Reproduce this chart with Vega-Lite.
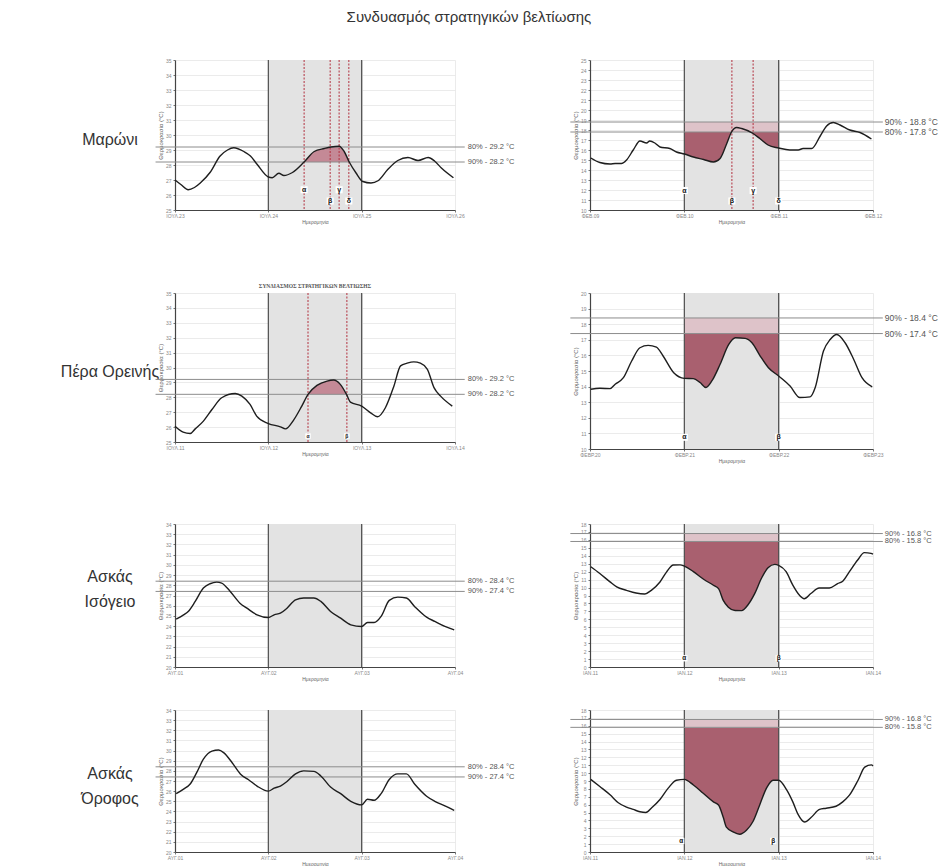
{
"$schema": "https://vega.github.io/schema/vega-lite/v6.json",
"padding": {"left": 0, "top": 10, "right": 0, "bottom": 0},
"title": {"text": "Συνδυασμός στρατηγικών βελτίωσης", "fontSize": 15, "font": "Liberation Sans", "fontWeight": "normal", "color": "#333", "offset": 33, "anchor": "middle"},
"config": {
  "view": {"stroke": null},
  "font": "Liberation Sans",
  "axis": {"labelFontSize": 5, "labelColor": "#888", "titleFontSize": 6, "titleColor": "#666", "titleFontWeight": "normal", "domainColor": "#444", "domainWidth": 1.2, "tickColor": "#777", "tickSize": 2, "gridColor": "#e6e6e6", "gridWidth": 0.8, "labelPadding": 2, "titlePadding": 2, "labelFlush": false, "labelOverlap": false, "labelSeparation": 0, "grid": true},
  "axisX": {"titleFontSize": 5, "titlePadding": 1, "labelPadding": 1}
},
"datasets": {
"m_s": [{"t":0,"v":27.0},{"t":1.5,"v":26.7},{"t":3.4,"v":26.35},{"t":5,"v":26.5},{"t":6.5,"v":26.8},{"t":9,"v":27.5},{"t":11.6,"v":28.6},{"t":13.5,"v":29.0},{"t":15.1,"v":29.15},{"t":17.7,"v":28.9},{"t":19.4,"v":28.6},{"t":21.1,"v":28.05},{"t":24,"v":27.2},{"t":25,"v":27.15},{"t":26.7,"v":27.45},{"t":28,"v":27.3},{"t":30.2,"v":27.5},{"t":33.2,"v":28.2},{"t":35.8,"v":28.9},{"t":38.4,"v":29.1},{"t":40.1,"v":29.2},{"t":42.2,"v":29.25},{"t":43.5,"v":28.9},{"t":44.8,"v":28.2},{"t":46.6,"v":27.45},{"t":48.3,"v":26.9},{"t":50.4,"v":26.8},{"t":52.2,"v":26.95},{"t":54.7,"v":27.7},{"t":57.3,"v":28.3},{"t":59.9,"v":28.5},{"t":62.5,"v":28.3},{"t":65.1,"v":28.5},{"t":66.8,"v":28.25},{"t":68.5,"v":27.8},{"t":71.6,"v":27.15}],
"m_w": [{"t":0.2,"v":15.2},{"t":2.5,"v":14.75},{"t":5.1,"v":14.6},{"t":6.4,"v":14.65},{"t":8,"v":14.65},{"t":9.3,"v":15.0},{"t":11,"v":16.0},{"t":12.7,"v":16.9},{"t":14.4,"v":16.7},{"t":15.2,"v":16.9},{"t":16.5,"v":16.7},{"t":17.8,"v":16.3},{"t":20.3,"v":16.15},{"t":22,"v":15.8},{"t":24,"v":15.6},{"t":26.3,"v":15.3},{"t":28.9,"v":15.05},{"t":31.4,"v":14.8},{"t":33.1,"v":15.15},{"t":34.8,"v":16.65},{"t":36,"v":17.8},{"t":37.3,"v":18.25},{"t":38.6,"v":18.15},{"t":41.5,"v":17.65},{"t":43.2,"v":17.15},{"t":45.3,"v":16.5},{"t":48,"v":16.2},{"t":50.8,"v":16.0},{"t":53,"v":16.0},{"t":54.2,"v":16.15},{"t":56.4,"v":16.15},{"t":58.5,"v":17.35},{"t":60.2,"v":18.4},{"t":61.9,"v":18.75},{"t":63.6,"v":18.5},{"t":66.1,"v":18.0},{"t":68.7,"v":17.75},{"t":71.6,"v":17.1}],
"p_s": [{"t":0,"v":26.06},{"t":2.1,"v":25.66},{"t":3.9,"v":25.57},{"t":5.2,"v":25.88},{"t":7.3,"v":26.4},{"t":9.5,"v":27.18},{"t":12,"v":27.97},{"t":15.5,"v":28.26},{"t":17.2,"v":28.08},{"t":19.3,"v":27.52},{"t":21,"v":26.74},{"t":24,"v":26.24},{"t":27.1,"v":26.02},{"t":28.4,"v":25.88},{"t":30.5,"v":26.47},{"t":32.6,"v":27.41},{"t":34.2,"v":28.2},{"t":36.5,"v":28.8},{"t":39.1,"v":29.09},{"t":40.8,"v":29.16},{"t":42.5,"v":28.87},{"t":44.1,"v":28.2},{"t":45.1,"v":27.68},{"t":48,"v":27.41},{"t":50.3,"v":26.96},{"t":52.1,"v":26.69},{"t":54.1,"v":27.3},{"t":56.3,"v":28.76},{"t":58,"v":30.11},{"t":59.7,"v":30.29},{"t":61.4,"v":30.38},{"t":63.1,"v":30.29},{"t":64.9,"v":29.88},{"t":66.6,"v":28.65},{"t":68.3,"v":28.08},{"t":71.3,"v":27.41}],
"p_w": [{"t":0.2,"v":13.83},{"t":2.5,"v":13.89},{"t":5.1,"v":13.87},{"t":6.4,"v":14.15},{"t":8.5,"v":14.57},{"t":10.6,"v":15.64},{"t":12.7,"v":16.49},{"t":14.8,"v":16.64},{"t":16.9,"v":16.53},{"t":18.6,"v":15.96},{"t":21.3,"v":14.89},{"t":24,"v":14.53},{"t":26.3,"v":14.51},{"t":28,"v":14.26},{"t":29.5,"v":13.94},{"t":31,"v":14.36},{"t":33.1,"v":15.43},{"t":35.3,"v":16.7},{"t":37,"v":17.13},{"t":39.5,"v":17.09},{"t":41.2,"v":16.81},{"t":43.3,"v":15.96},{"t":45.4,"v":15.21},{"t":48,"v":14.68},{"t":50.9,"v":14.04},{"t":53.4,"v":13.3},{"t":56,"v":13.34},{"t":57.3,"v":13.94},{"t":59.4,"v":16.28},{"t":61.1,"v":17.02},{"t":62.8,"v":17.34},{"t":64.9,"v":16.81},{"t":67.1,"v":15.74},{"t":69.2,"v":14.57},{"t":71.8,"v":13.98}],
"ai_s": [{"t":0.3,"v":24.69},{"t":2.2,"v":25.11},{"t":3.4,"v":25.44},{"t":5.2,"v":26.42},{"t":7.3,"v":27.73},{"t":9,"v":28.15},{"t":10.7,"v":28.31},{"t":12,"v":28.22},{"t":14.2,"v":27.4},{"t":16.7,"v":26.25},{"t":18.5,"v":25.76},{"t":21.1,"v":25.11},{"t":24,"v":24.85},{"t":25.5,"v":25.11},{"t":27.1,"v":25.27},{"t":28.8,"v":25.76},{"t":31,"v":26.58},{"t":33.1,"v":26.75},{"t":35.7,"v":26.75},{"t":37.5,"v":26.42},{"t":40,"v":25.44},{"t":42.6,"v":24.78},{"t":45.2,"v":24.13},{"t":48,"v":23.97},{"t":49.5,"v":24.36},{"t":51.2,"v":24.36},{"t":53,"v":24.95},{"t":55.1,"v":26.52},{"t":57.3,"v":26.84},{"t":59.5,"v":26.75},{"t":61.6,"v":25.93},{"t":64.7,"v":24.88},{"t":66.8,"v":24.46},{"t":69.4,"v":23.97},{"t":71.8,"v":23.64}],
"ai_w": [{"t":0.2,"v":12.62},{"t":2.5,"v":11.77},{"t":5.1,"v":10.71},{"t":6.8,"v":10.08},{"t":9.3,"v":9.65},{"t":11.7,"v":9.31},{"t":13.9,"v":9.19},{"t":15.6,"v":9.65},{"t":17.8,"v":10.7},{"t":19.5,"v":11.98},{"t":21.2,"v":12.83},{"t":22.9,"v":12.85},{"t":24,"v":12.7},{"t":26.3,"v":12.0},{"t":28.9,"v":11.05},{"t":31.4,"v":10.29},{"t":32.7,"v":9.86},{"t":33.9,"v":8.38},{"t":35.2,"v":7.53},{"t":36.9,"v":7.11},{"t":38.6,"v":7.1},{"t":40.2,"v":7.83},{"t":41.9,"v":9.23},{"t":43.6,"v":11.14},{"t":45.3,"v":12.49},{"t":47,"v":12.92},{"t":48,"v":12.8},{"t":49.9,"v":12.0},{"t":51.6,"v":10.3},{"t":53.3,"v":9.02},{"t":54.5,"v":8.6},{"t":56.2,"v":9.25},{"t":58.3,"v":9.95},{"t":60.9,"v":9.95},{"t":63,"v":10.5},{"t":64.3,"v":10.8},{"t":66,"v":12.0},{"t":68.1,"v":13.47},{"t":69.8,"v":14.4},{"t":71.5,"v":14.3},{"t":72,"v":14.2}],
"ao_s": [{"t":0.3,"v":25.75},{"t":2.2,"v":26.2},{"t":3.9,"v":26.7},{"t":5.6,"v":27.85},{"t":7.3,"v":29.15},{"t":9.5,"v":29.95},{"t":11.2,"v":30.05},{"t":12.5,"v":29.8},{"t":14.7,"v":28.8},{"t":16.8,"v":27.7},{"t":19,"v":27.1},{"t":21.1,"v":26.5},{"t":24,"v":26.0},{"t":25.5,"v":26.3},{"t":27.1,"v":26.5},{"t":28.8,"v":26.95},{"t":31,"v":27.7},{"t":33.1,"v":28.0},{"t":35.7,"v":27.95},{"t":37.5,"v":27.5},{"t":40,"v":26.4},{"t":42.6,"v":25.75},{"t":45.2,"v":25.0},{"t":48,"v":24.65},{"t":49.5,"v":25.2},{"t":51.2,"v":25.1},{"t":53,"v":25.75},{"t":55.1,"v":27.15},{"t":57.3,"v":27.7},{"t":59.5,"v":27.7},{"t":61.6,"v":26.7},{"t":64.7,"v":25.5},{"t":66.8,"v":25.0},{"t":69.4,"v":24.55},{"t":71.8,"v":24.1}],
"ao_w": [{"t":0.2,"v":9.2},{"t":2.5,"v":8.3},{"t":5.1,"v":7.25},{"t":7.2,"v":6.25},{"t":9.3,"v":5.7},{"t":11,"v":5.4},{"t":12.7,"v":5.1},{"t":14.2,"v":5.0},{"t":15.7,"v":5.6},{"t":17.8,"v":6.65},{"t":19.9,"v":8.1},{"t":22,"v":9.1},{"t":24,"v":9.2},{"t":26.3,"v":8.5},{"t":28.8,"v":7.45},{"t":31.4,"v":6.35},{"t":32.7,"v":5.95},{"t":33.9,"v":4.4},{"t":34.7,"v":3.15},{"t":36.4,"v":2.55},{"t":38.1,"v":2.25},{"t":39.8,"v":2.75},{"t":41.5,"v":3.9},{"t":43.2,"v":6.0},{"t":44.9,"v":8.1},{"t":46.6,"v":9.1},{"t":48,"v":9.1},{"t":50,"v":7.9},{"t":51.6,"v":6.35},{"t":52.9,"v":4.8},{"t":54.6,"v":3.8},{"t":56.3,"v":4.4},{"t":58.4,"v":5.4},{"t":60.1,"v":5.55},{"t":62.6,"v":5.8},{"t":64.3,"v":6.35},{"t":66,"v":7.2},{"t":68.2,"v":9.1},{"t":69.9,"v":10.75},{"t":71.6,"v":11.05},{"t":72,"v":10.9}]
},
"bounds": "flush",
"columns": 3,
"spacing": {"row": 0, "column": 135},
"concat": [
{"width": 40, "height": 233, "data": {"values": [{"n": "Μαρώνι"}]}, "mark": {"type": "text", "fontSize": 16, "color": "#333", "dx": 90, "dy": -36.5, "lineBreak": "\n", "lineHeight": 25, "baseline": "middle"}, "encoding": {"text": {"field": "n"}}},
{"width": 280, "height": 150, "data": {"name": "m_s"},
 "layer": [
  {"mark": {"type": "line", "opacity": 0}, "encoding": {"x": {"field": "t", "type": "quantitative", "scale": {"domain": [0, 72]}, "axis": {"values": [0, 24, 48, 72], "labelExpr": "['ΙΟΥΛ.23','ΙΟΥΛ.24','ΙΟΥΛ.25','ΙΟΥΛ.26'][datum.value/24]", "title": "Ημερομηνία", "labelOverlap": false}}, "y": {"field": "v", "type": "quantitative", "scale": {"domain": [25, 35]}, "axis": {"values": [25, 26, 27, 28, 29, 30, 31, 32, 33, 34, 35], "title": "Θερμοκρασία (°C)", "labelOverlap": false, "tickCount": 11}}}},
  {"mark": {"type": "rect", "color": "#e3e3e3"}, "encoding": {"x": {"datum": 24, "type": "quantitative", "scale": {"domain": [0, 72]}}, "x2": {"datum": 48}}},
  {"transform": [{"filter": "datum.t >= 33.2 && datum.t <= 44.8"}], "mark": {"type": "area", "color": "#c48996", "interpolate": "monotone"}, "encoding": {"x": {"field": "t", "type": "quantitative", "scale": {"domain": [0, 72]}}, "y": {"field": "v", "type": "quantitative", "scale": {"domain": [25, 35]}}, "y2": {"datum": 28.2}}},
  {"data": {"values": [{"t": 24}, {"t": 48}]}, "mark": {"type": "rule", "color": "#4d4d4d", "strokeWidth": 1.2}, "encoding": {"x": {"field": "t", "type": "quantitative", "scale": {"domain": [0, 72]}}}},
  {"data": {"values": [{"t": 33.2}, {"t": 39.9}, {"t": 42.2}, {"t": 44.7}]}, "mark": {"type": "rule", "color": "#b2303f", "strokeWidth": 1, "strokeDash": [2, 1.5]}, "encoding": {"x": {"field": "t", "type": "quantitative", "scale": {"domain": [0, 72]}}}},
  {"data": {"values": [{"k": "80% - 29.2 °C", "v": 29.2}, {"k": "90% - 28.2 °C", "v": 28.2}]}, "mark": {"type": "rule", "color": "#8c8c8c", "strokeWidth": 1}, "encoding": {"x": {"datum": -5, "type": "quantitative", "scale": {"domain": [0, 72]}}, "x2": {"datum": 74.5}, "y": {"field": "v", "type": "quantitative", "scale": {"domain": [25, 35]}}}},
  {"data": {"values": [{"k": "80% - 29.2 °C", "v": 29.2}, {"k": "90% - 28.2 °C", "v": 28.2}]}, "mark": {"type": "text", "align": "left", "dx": 3, "fontSize": 7.5, "color": "#555"}, "encoding": {"x": {"datum": 74.5, "type": "quantitative", "scale": {"domain": [0, 72]}}, "y": {"field": "v", "type": "quantitative", "scale": {"domain": [25, 35]}}, "text": {"field": "k"}}},
  {"mark": {"type": "line", "color": "#1e1e1e", "strokeWidth": 1.4, "interpolate": "monotone"}, "encoding": {"x": {"field": "t", "type": "quantitative", "scale": {"domain": [0, 72]}}, "y": {"field": "v", "type": "quantitative", "scale": {"domain": [25, 35]}}}},
  {"data": {"values": [{"g": "α", "t": 33.2, "v": 26.35}, {"g": "β", "t": 39.9, "v": 25.6}, {"g": "γ", "t": 42.2, "v": 26.35}, {"g": "δ", "t": 44.7, "v": 25.6}]}, "mark": {"type": "point", "shape": "square", "filled": true, "color": "#ffffff", "opacity": 1, "size": 50}, "encoding": {"x": {"field": "t", "type": "quantitative", "scale": {"domain": [0, 72]}}, "y": {"field": "v", "type": "quantitative", "scale": {"domain": [25, 35]}}}},
  {"data": {"values": [{"g": "α", "t": 33.2, "v": 26.35}, {"g": "β", "t": 39.9, "v": 25.6}, {"g": "γ", "t": 42.2, "v": 26.35}, {"g": "δ", "t": 44.7, "v": 25.6}]}, "mark": {"type": "text", "fontSize": 7, "fontWeight": "bold", "color": "#111"}, "encoding": {"x": {"field": "t", "type": "quantitative", "scale": {"domain": [0, 72]}}, "y": {"field": "v", "type": "quantitative", "scale": {"domain": [25, 35]}}, "text": {"field": "g"}}}
 ]},
{"width": 283, "height": 150, "data": {"name": "m_w"},
 "layer": [
  {"mark": {"type": "line", "opacity": 0}, "encoding": {"x": {"field": "t", "type": "quantitative", "scale": {"domain": [0, 72]}, "axis": {"values": [0, 24, 48, 72], "labelExpr": "['ΦΕΒ.09','ΦΕΒ.10','ΦΕΒ.11','ΦΕΒ.12'][datum.value/24]", "title": "Ημερομηνία", "labelOverlap": false}}, "y": {"field": "v", "type": "quantitative", "scale": {"domain": [10, 25]}, "axis": {"values": [10, 11, 12, 13, 14, 15, 16, 17, 18, 19, 20, 21, 22, 23, 24, 25], "title": "Θερμοκρασία (°C)", "labelOverlap": false, "tickCount": 16}}}},
  {"mark": {"type": "rect", "color": "#e3e3e3"}, "encoding": {"x": {"datum": 24, "type": "quantitative", "scale": {"domain": [0, 72]}}, "x2": {"datum": 48}}},
  {"transform": [{"filter": "datum.t >= 24 && datum.t <= 48"}], "mark": {"type": "area", "color": "#a9606f", "interpolate": "monotone"}, "encoding": {"x": {"field": "t", "type": "quantitative", "scale": {"domain": [0, 72]}}, "y": {"field": "v", "type": "quantitative", "scale": {"domain": [10, 25]}}, "y2": {"datum": 17.8}}},
  {"mark": {"type": "rect", "color": "#dec3c9"}, "encoding": {"x": {"datum": 24, "type": "quantitative", "scale": {"domain": [0, 72]}}, "x2": {"datum": 48}, "y": {"datum": 17.8, "type": "quantitative", "scale": {"domain": [10, 25]}}, "y2": {"datum": 18.8}}},
  {"data": {"values": [{"t": 24}, {"t": 48}]}, "mark": {"type": "rule", "color": "#4d4d4d", "strokeWidth": 1.2}, "encoding": {"x": {"field": "t", "type": "quantitative", "scale": {"domain": [0, 72]}}}},
  {"data": {"values": [{"t": 36.1}, {"t": 41.5}]}, "mark": {"type": "rule", "color": "#b2303f", "strokeWidth": 1, "strokeDash": [2, 1.5]}, "encoding": {"x": {"field": "t", "type": "quantitative", "scale": {"domain": [0, 72]}}}},
  {"data": {"values": [{"k": "90% - 18.8 °C", "v": 18.8}, {"k": "80% - 17.8 °C", "v": 17.8}]}, "mark": {"type": "rule", "color": "#8c8c8c", "strokeWidth": 1}, "encoding": {"x": {"datum": -5, "type": "quantitative", "scale": {"domain": [0, 72]}}, "x2": {"datum": 74.5}, "y": {"field": "v", "type": "quantitative", "scale": {"domain": [10, 25]}}}},
  {"data": {"values": [{"k": "90% - 18.8 °C", "v": 18.8}, {"k": "80% - 17.8 °C", "v": 17.8}]}, "mark": {"type": "text", "align": "left", "dx": 2, "fontSize": 8.5, "color": "#555"}, "encoding": {"x": {"datum": 74.5, "type": "quantitative", "scale": {"domain": [0, 72]}}, "y": {"field": "v", "type": "quantitative", "scale": {"domain": [10, 25]}}, "text": {"field": "k"}}},
  {"mark": {"type": "line", "color": "#1e1e1e", "strokeWidth": 1.4, "interpolate": "monotone"}, "encoding": {"x": {"field": "t", "type": "quantitative", "scale": {"domain": [0, 72]}}, "y": {"field": "v", "type": "quantitative", "scale": {"domain": [10, 25]}}}},
  {"data": {"values": [{"g": "α", "t": 24, "v": 11.95}, {"g": "β", "t": 36.1, "v": 10.9}, {"g": "γ", "t": 41.5, "v": 11.95}, {"g": "δ", "t": 48, "v": 10.9}]}, "mark": {"type": "point", "shape": "square", "filled": true, "color": "#ffffff", "opacity": 1, "size": 50}, "encoding": {"x": {"field": "t", "type": "quantitative", "scale": {"domain": [0, 72]}}, "y": {"field": "v", "type": "quantitative", "scale": {"domain": [10, 25]}}}},
  {"data": {"values": [{"g": "α", "t": 24, "v": 11.95}, {"g": "β", "t": 36.1, "v": 10.9}, {"g": "γ", "t": 41.5, "v": 11.95}, {"g": "δ", "t": 48, "v": 10.9}]}, "mark": {"type": "text", "fontSize": 7, "fontWeight": "bold", "color": "#111"}, "encoding": {"x": {"field": "t", "type": "quantitative", "scale": {"domain": [0, 72]}}, "y": {"field": "v", "type": "quantitative", "scale": {"domain": [10, 25]}}, "text": {"field": "g"}}}
 ]},
{"width": 40, "height": 231, "data": {"values": [{"n": "Πέρα Ορεινής"}]}, "mark": {"type": "text", "fontSize": 16, "color": "#333", "dx": 90, "dy": -36.5, "lineBreak": "\n", "lineHeight": 25, "baseline": "middle"}, "encoding": {"text": {"field": "n"}}},
{"width": 280, "height": 149, "data": {"name": "p_s"},
 "title": {"text": "ΣΥΝΔΙΑΣΜΟΣ ΣΤΡΑΤΗΓΙΚΩΝ ΒΕΛΤΙΩΣΗΣ", "fontSize": 5.5, "font": "Liberation Serif", "fontWeight": "bold", "color": "#555", "offset": 2},
 "layer": [
  {"mark": {"type": "line", "opacity": 0}, "encoding": {"x": {"field": "t", "type": "quantitative", "scale": {"domain": [0, 72]}, "axis": {"values": [0, 24, 48, 72], "labelExpr": "['ΙΟΥΛ.11','ΙΟΥΛ.12','ΙΟΥΛ.13','ΙΟΥΛ.14'][datum.value/24]", "title": "Ημερομηνία", "labelOverlap": false}}, "y": {"field": "v", "type": "quantitative", "scale": {"domain": [25, 35]}, "axis": {"values": [25, 26, 27, 28, 29, 30, 31, 32, 33, 34, 35], "title": "Θερμοκρασία (°C)", "labelOverlap": false, "tickCount": 11}}}},
  {"mark": {"type": "rect", "color": "#e3e3e3"}, "encoding": {"x": {"datum": 24, "type": "quantitative", "scale": {"domain": [0, 72]}}, "x2": {"datum": 48}}},
  {"transform": [{"filter": "datum.t >= 34.2 && datum.t <= 44.1"}], "mark": {"type": "area", "color": "#c48996", "interpolate": "monotone"}, "encoding": {"x": {"field": "t", "type": "quantitative", "scale": {"domain": [0, 72]}}, "y": {"field": "v", "type": "quantitative", "scale": {"domain": [25, 35]}}, "y2": {"datum": 28.2}}},
  {"data": {"values": [{"t": 24}, {"t": 48}]}, "mark": {"type": "rule", "color": "#4d4d4d", "strokeWidth": 1.2}, "encoding": {"x": {"field": "t", "type": "quantitative", "scale": {"domain": [0, 72]}}}},
  {"data": {"values": [{"t": 34.2}, {"t": 44.2}]}, "mark": {"type": "rule", "color": "#b2303f", "strokeWidth": 1, "strokeDash": [2, 1.5]}, "encoding": {"x": {"field": "t", "type": "quantitative", "scale": {"domain": [0, 72]}}}},
  {"data": {"values": [{"k": "80% - 29.2 °C", "v": 29.2}, {"k": "90% - 28.2 °C", "v": 28.2}]}, "mark": {"type": "rule", "color": "#8c8c8c", "strokeWidth": 1}, "encoding": {"x": {"datum": -5, "type": "quantitative", "scale": {"domain": [0, 72]}}, "x2": {"datum": 74.5}, "y": {"field": "v", "type": "quantitative", "scale": {"domain": [25, 35]}}}},
  {"data": {"values": [{"k": "80% - 29.2 °C", "v": 29.2}, {"k": "90% - 28.2 °C", "v": 28.2}]}, "mark": {"type": "text", "align": "left", "dx": 3, "fontSize": 7.5, "color": "#555"}, "encoding": {"x": {"datum": 74.5, "type": "quantitative", "scale": {"domain": [0, 72]}}, "y": {"field": "v", "type": "quantitative", "scale": {"domain": [25, 35]}}, "text": {"field": "k"}}},
  {"mark": {"type": "line", "color": "#1e1e1e", "strokeWidth": 1.4, "interpolate": "monotone"}, "encoding": {"x": {"field": "t", "type": "quantitative", "scale": {"domain": [0, 72]}}, "y": {"field": "v", "type": "quantitative", "scale": {"domain": [25, 35]}}}},
  {"data": {"values": [{"g": "α", "t": 34.2, "v": 25.4}, {"g": "β", "t": 44.2, "v": 25.4}]}, "mark": {"type": "point", "shape": "square", "filled": true, "color": "#ffffff", "opacity": 1, "size": 30}, "encoding": {"x": {"field": "t", "type": "quantitative", "scale": {"domain": [0, 72]}}, "y": {"field": "v", "type": "quantitative", "scale": {"domain": [25, 35]}}}},
  {"data": {"values": [{"g": "α", "t": 34.2, "v": 25.4}, {"g": "β", "t": 44.2, "v": 25.4}]}, "mark": {"type": "text", "fontSize": 5, "fontWeight": "bold", "color": "#111"}, "encoding": {"x": {"field": "t", "type": "quantitative", "scale": {"domain": [0, 72]}}, "y": {"field": "v", "type": "quantitative", "scale": {"domain": [25, 35]}}, "text": {"field": "g"}}}
 ]},
{"width": 283, "height": 156, "data": {"name": "p_w"},
 "layer": [
  {"mark": {"type": "line", "opacity": 0}, "encoding": {"x": {"field": "t", "type": "quantitative", "scale": {"domain": [0, 72]}, "axis": {"values": [0, 24, 48, 72], "labelExpr": "['ΦΕΒΡ.20','ΦΕΒΡ.21','ΦΕΒΡ.22','ΦΕΒΡ.23'][datum.value/24]", "title": "Ημερομηνία", "labelOverlap": false}}, "y": {"field": "v", "type": "quantitative", "scale": {"domain": [10, 20]}, "axis": {"values": [10, 11, 12, 13, 14, 15, 16, 17, 18, 19, 20], "title": "Θερμοκρασία (°C)", "labelOverlap": false, "tickCount": 11}}}},
  {"mark": {"type": "rect", "color": "#e3e3e3"}, "encoding": {"x": {"datum": 24, "type": "quantitative", "scale": {"domain": [0, 72]}}, "x2": {"datum": 48}}},
  {"transform": [{"filter": "datum.t >= 24 && datum.t <= 48"}], "mark": {"type": "area", "color": "#a9606f", "interpolate": "monotone"}, "encoding": {"x": {"field": "t", "type": "quantitative", "scale": {"domain": [0, 72]}}, "y": {"field": "v", "type": "quantitative", "scale": {"domain": [10, 20]}}, "y2": {"datum": 17.4}}},
  {"mark": {"type": "rect", "color": "#dec3c9"}, "encoding": {"x": {"datum": 24, "type": "quantitative", "scale": {"domain": [0, 72]}}, "x2": {"datum": 48}, "y": {"datum": 17.4, "type": "quantitative", "scale": {"domain": [10, 20]}}, "y2": {"datum": 18.4}}},
  {"data": {"values": [{"t": 24}, {"t": 48}]}, "mark": {"type": "rule", "color": "#4d4d4d", "strokeWidth": 1.2}, "encoding": {"x": {"field": "t", "type": "quantitative", "scale": {"domain": [0, 72]}}}},
  {"data": {"values": [{"k": "90% - 18.4 °C", "v": 18.4}, {"k": "80% - 17.4 °C", "v": 17.4}]}, "mark": {"type": "rule", "color": "#8c8c8c", "strokeWidth": 1}, "encoding": {"x": {"datum": -5, "type": "quantitative", "scale": {"domain": [0, 72]}}, "x2": {"datum": 74.5}, "y": {"field": "v", "type": "quantitative", "scale": {"domain": [10, 20]}}}},
  {"data": {"values": [{"k": "90% - 18.4 °C", "v": 18.4}, {"k": "80% - 17.4 °C", "v": 17.4}]}, "mark": {"type": "text", "align": "left", "dx": 2, "fontSize": 8.5, "color": "#555"}, "encoding": {"x": {"datum": 74.5, "type": "quantitative", "scale": {"domain": [0, 72]}}, "y": {"field": "v", "type": "quantitative", "scale": {"domain": [10, 20]}}, "text": {"field": "k"}}},
  {"mark": {"type": "line", "color": "#1e1e1e", "strokeWidth": 1.4, "interpolate": "monotone"}, "encoding": {"x": {"field": "t", "type": "quantitative", "scale": {"domain": [0, 72]}}, "y": {"field": "v", "type": "quantitative", "scale": {"domain": [10, 20]}}}},
  {"data": {"values": [{"g": "α", "t": 24, "v": 10.75}, {"g": "β", "t": 48, "v": 10.75}]}, "mark": {"type": "point", "shape": "square", "filled": true, "color": "#ffffff", "opacity": 1, "size": 50}, "encoding": {"x": {"field": "t", "type": "quantitative", "scale": {"domain": [0, 72]}}, "y": {"field": "v", "type": "quantitative", "scale": {"domain": [10, 20]}}}},
  {"data": {"values": [{"g": "α", "t": 24, "v": 10.75}, {"g": "β", "t": 48, "v": 10.75}]}, "mark": {"type": "text", "fontSize": 7, "fontWeight": "bold", "color": "#111"}, "encoding": {"x": {"field": "t", "type": "quantitative", "scale": {"domain": [0, 72]}}, "y": {"field": "v", "type": "quantitative", "scale": {"domain": [10, 20]}}, "text": {"field": "g"}}}
 ]},
{"width": 40, "height": 186, "data": {"values": [{"n": "Ασκάς\nΙσόγειο"}]}, "mark": {"type": "text", "fontSize": 16, "color": "#333", "dx": 90, "dy": -40, "lineBreak": "\n", "lineHeight": 25, "baseline": "middle"}, "encoding": {"text": {"field": "n"}}},
{"width": 280, "height": 143, "data": {"name": "ai_s"},
 "layer": [
  {"mark": {"type": "line", "opacity": 0}, "encoding": {"x": {"field": "t", "type": "quantitative", "scale": {"domain": [0, 72]}, "axis": {"values": [0, 24, 48, 72], "labelExpr": "['ΑΥΓ.01','ΑΥΓ.02','ΑΥΓ.03','ΑΥΓ.04'][datum.value/24]", "title": "Ημερομηνία", "labelOverlap": false}}, "y": {"field": "v", "type": "quantitative", "scale": {"domain": [20, 34]}, "axis": {"values": [20, 21, 22, 23, 24, 25, 26, 27, 28, 29, 30, 31, 32, 33, 34], "title": "Θερμοκρασία (°C)", "labelOverlap": false, "tickCount": 15}}}},
  {"mark": {"type": "rect", "color": "#e3e3e3"}, "encoding": {"x": {"datum": 24, "type": "quantitative", "scale": {"domain": [0, 72]}}, "x2": {"datum": 48}}},
  {"data": {"values": [{"t": 24}, {"t": 48}]}, "mark": {"type": "rule", "color": "#4d4d4d", "strokeWidth": 1.2}, "encoding": {"x": {"field": "t", "type": "quantitative", "scale": {"domain": [0, 72]}}}},
  {"data": {"values": [{"k": "80% - 28.4 °C", "v": 28.4}, {"k": "90% - 27.4 °C", "v": 27.4}]}, "mark": {"type": "rule", "color": "#8c8c8c", "strokeWidth": 1}, "encoding": {"x": {"datum": -5, "type": "quantitative", "scale": {"domain": [0, 72]}}, "x2": {"datum": 74.5}, "y": {"field": "v", "type": "quantitative", "scale": {"domain": [20, 34]}}}},
  {"data": {"values": [{"k": "80% - 28.4 °C", "v": 28.4}, {"k": "90% - 27.4 °C", "v": 27.4}]}, "mark": {"type": "text", "align": "left", "dx": 3, "fontSize": 7.5, "color": "#555"}, "encoding": {"x": {"datum": 74.5, "type": "quantitative", "scale": {"domain": [0, 72]}}, "y": {"field": "v", "type": "quantitative", "scale": {"domain": [20, 34]}}, "text": {"field": "k"}}},
  {"mark": {"type": "line", "color": "#1e1e1e", "strokeWidth": 1.4, "interpolate": "monotone"}, "encoding": {"x": {"field": "t", "type": "quantitative", "scale": {"domain": [0, 72]}}, "y": {"field": "v", "type": "quantitative", "scale": {"domain": [20, 34]}}}}
 ]},
{"width": 283, "height": 143, "data": {"name": "ai_w"},
 "layer": [
  {"mark": {"type": "line", "opacity": 0}, "encoding": {"x": {"field": "t", "type": "quantitative", "scale": {"domain": [0, 72]}, "axis": {"values": [0, 24, 48, 72], "labelExpr": "['ΙΑΝ.11','ΙΑΝ.12','ΙΑΝ.13','ΙΑΝ.14'][datum.value/24]", "title": "Ημερομηνία", "labelOverlap": false}}, "y": {"field": "v", "type": "quantitative", "scale": {"domain": [0, 18]}, "axis": {"values": [0, 1, 2, 3, 4, 5, 6, 7, 8, 9, 10, 11, 12, 13, 14, 15, 16, 17, 18], "title": "Θερμοκρασία (°C)", "labelOverlap": false, "tickCount": 19}}}},
  {"mark": {"type": "rect", "color": "#e3e3e3"}, "encoding": {"x": {"datum": 24, "type": "quantitative", "scale": {"domain": [0, 72]}}, "x2": {"datum": 48}}},
  {"transform": [{"filter": "datum.t >= 24 && datum.t <= 48"}], "mark": {"type": "area", "color": "#a9606f", "interpolate": "monotone"}, "encoding": {"x": {"field": "t", "type": "quantitative", "scale": {"domain": [0, 72]}}, "y": {"field": "v", "type": "quantitative", "scale": {"domain": [0, 18]}}, "y2": {"datum": 15.8}}},
  {"mark": {"type": "rect", "color": "#dec3c9"}, "encoding": {"x": {"datum": 24, "type": "quantitative", "scale": {"domain": [0, 72]}}, "x2": {"datum": 48}, "y": {"datum": 15.8, "type": "quantitative", "scale": {"domain": [0, 18]}}, "y2": {"datum": 16.8}}},
  {"data": {"values": [{"t": 24}, {"t": 48}]}, "mark": {"type": "rule", "color": "#4d4d4d", "strokeWidth": 1.2}, "encoding": {"x": {"field": "t", "type": "quantitative", "scale": {"domain": [0, 72]}}}},
  {"data": {"values": [{"k": "90% - 16.8 °C", "v": 16.8}, {"k": "80% - 15.8 °C", "v": 15.8}]}, "mark": {"type": "rule", "color": "#8c8c8c", "strokeWidth": 1}, "encoding": {"x": {"datum": -5, "type": "quantitative", "scale": {"domain": [0, 72]}}, "x2": {"datum": 74.5}, "y": {"field": "v", "type": "quantitative", "scale": {"domain": [0, 18]}}}},
  {"data": {"values": [{"k": "90% - 16.8 °C", "v": 16.8}, {"k": "80% - 15.8 °C", "v": 15.8}]}, "mark": {"type": "text", "align": "left", "dx": 2, "fontSize": 7.5, "color": "#555"}, "encoding": {"x": {"datum": 74.5, "type": "quantitative", "scale": {"domain": [0, 72]}}, "y": {"field": "v", "type": "quantitative", "scale": {"domain": [0, 18]}}, "text": {"field": "k"}}},
  {"mark": {"type": "line", "color": "#1e1e1e", "strokeWidth": 1.4, "interpolate": "monotone"}, "encoding": {"x": {"field": "t", "type": "quantitative", "scale": {"domain": [0, 72]}}, "y": {"field": "v", "type": "quantitative", "scale": {"domain": [0, 18]}}}},
  {"data": {"values": [{"g": "α", "t": 24, "v": 1.1}, {"g": "β", "t": 48, "v": 1.1}]}, "mark": {"type": "point", "shape": "square", "filled": true, "color": "#ffffff", "opacity": 1, "size": 40}, "encoding": {"x": {"field": "t", "type": "quantitative", "scale": {"domain": [0, 72]}}, "y": {"field": "v", "type": "quantitative", "scale": {"domain": [0, 18]}}}},
  {"data": {"values": [{"g": "α", "t": 24, "v": 1.1}, {"g": "β", "t": 48, "v": 1.1}]}, "mark": {"type": "text", "fontSize": 6.5, "fontWeight": "bold", "color": "#111"}, "encoding": {"x": {"field": "t", "type": "quantitative", "scale": {"domain": [0, 72]}}, "y": {"field": "v", "type": "quantitative", "scale": {"domain": [0, 18]}}, "text": {"field": "g"}}}
 ]},
{"width": 40, "height": 142, "data": {"values": [{"n": "Ασκάς\nΌροφος"}]}, "mark": {"type": "text", "fontSize": 16, "color": "#333", "dx": 90, "dy": -7, "lineBreak": "\n", "lineHeight": 25, "baseline": "middle"}, "encoding": {"text": {"field": "n"}}},
{"width": 280, "height": 142, "data": {"name": "ao_s"},
 "layer": [
  {"mark": {"type": "line", "opacity": 0}, "encoding": {"x": {"field": "t", "type": "quantitative", "scale": {"domain": [0, 72]}, "axis": {"values": [0, 24, 48, 72], "labelExpr": "['ΑΥΓ.01','ΑΥΓ.02','ΑΥΓ.03','ΑΥΓ.04'][datum.value/24]", "title": "Ημερομηνία", "labelOverlap": false}}, "y": {"field": "v", "type": "quantitative", "scale": {"domain": [20, 34]}, "axis": {"values": [20, 21, 22, 23, 24, 25, 26, 27, 28, 29, 30, 31, 32, 33, 34], "title": "Θερμοκρασία (°C)", "labelOverlap": false, "tickCount": 15}}}},
  {"mark": {"type": "rect", "color": "#e3e3e3"}, "encoding": {"x": {"datum": 24, "type": "quantitative", "scale": {"domain": [0, 72]}}, "x2": {"datum": 48}}},
  {"data": {"values": [{"t": 24}, {"t": 48}]}, "mark": {"type": "rule", "color": "#4d4d4d", "strokeWidth": 1.2}, "encoding": {"x": {"field": "t", "type": "quantitative", "scale": {"domain": [0, 72]}}}},
  {"data": {"values": [{"k": "80% - 28.4 °C", "v": 28.4}, {"k": "90% - 27.4 °C", "v": 27.4}]}, "mark": {"type": "rule", "color": "#8c8c8c", "strokeWidth": 1}, "encoding": {"x": {"datum": -5, "type": "quantitative", "scale": {"domain": [0, 72]}}, "x2": {"datum": 74.5}, "y": {"field": "v", "type": "quantitative", "scale": {"domain": [20, 34]}}}},
  {"data": {"values": [{"k": "80% - 28.4 °C", "v": 28.4}, {"k": "90% - 27.4 °C", "v": 27.4}]}, "mark": {"type": "text", "align": "left", "dx": 3, "fontSize": 7.5, "color": "#555"}, "encoding": {"x": {"datum": 74.5, "type": "quantitative", "scale": {"domain": [0, 72]}}, "y": {"field": "v", "type": "quantitative", "scale": {"domain": [20, 34]}}, "text": {"field": "k"}}},
  {"mark": {"type": "line", "color": "#1e1e1e", "strokeWidth": 1.4, "interpolate": "monotone"}, "encoding": {"x": {"field": "t", "type": "quantitative", "scale": {"domain": [0, 72]}}, "y": {"field": "v", "type": "quantitative", "scale": {"domain": [20, 34]}}}}
 ]},
{"width": 283, "height": 142, "data": {"name": "ao_w"},
 "layer": [
  {"mark": {"type": "line", "opacity": 0}, "encoding": {"x": {"field": "t", "type": "quantitative", "scale": {"domain": [0, 72]}, "axis": {"values": [0, 24, 48, 72], "labelExpr": "['ΙΑΝ.11','ΙΑΝ.12','ΙΑΝ.13','ΙΑΝ.14'][datum.value/24]", "title": "Ημερομηνία", "labelOverlap": false}}, "y": {"field": "v", "type": "quantitative", "scale": {"domain": [0, 18]}, "axis": {"values": [0, 1, 2, 3, 4, 5, 6, 7, 8, 9, 10, 11, 12, 13, 14, 15, 16, 17, 18], "title": "Θερμοκρασία (°C)", "labelOverlap": false, "tickCount": 19}}}},
  {"mark": {"type": "rect", "color": "#e3e3e3"}, "encoding": {"x": {"datum": 24, "type": "quantitative", "scale": {"domain": [0, 72]}}, "x2": {"datum": 48}}},
  {"transform": [{"filter": "datum.t >= 24 && datum.t <= 48"}], "mark": {"type": "area", "color": "#a9606f", "interpolate": "monotone"}, "encoding": {"x": {"field": "t", "type": "quantitative", "scale": {"domain": [0, 72]}}, "y": {"field": "v", "type": "quantitative", "scale": {"domain": [0, 18]}}, "y2": {"datum": 15.8}}},
  {"mark": {"type": "rect", "color": "#dec3c9"}, "encoding": {"x": {"datum": 24, "type": "quantitative", "scale": {"domain": [0, 72]}}, "x2": {"datum": 48}, "y": {"datum": 15.8, "type": "quantitative", "scale": {"domain": [0, 18]}}, "y2": {"datum": 16.8}}},
  {"data": {"values": [{"t": 24}, {"t": 48}]}, "mark": {"type": "rule", "color": "#4d4d4d", "strokeWidth": 1.2}, "encoding": {"x": {"field": "t", "type": "quantitative", "scale": {"domain": [0, 72]}}}},
  {"data": {"values": [{"k": "90% - 16.8 °C", "v": 16.8}, {"k": "80% - 15.8 °C", "v": 15.8}]}, "mark": {"type": "rule", "color": "#8c8c8c", "strokeWidth": 1}, "encoding": {"x": {"datum": -5, "type": "quantitative", "scale": {"domain": [0, 72]}}, "x2": {"datum": 74.5}, "y": {"field": "v", "type": "quantitative", "scale": {"domain": [0, 18]}}}},
  {"data": {"values": [{"k": "90% - 16.8 °C", "v": 16.8}, {"k": "80% - 15.8 °C", "v": 15.8}]}, "mark": {"type": "text", "align": "left", "dx": 2, "fontSize": 7.5, "color": "#555"}, "encoding": {"x": {"datum": 74.5, "type": "quantitative", "scale": {"domain": [0, 72]}}, "y": {"field": "v", "type": "quantitative", "scale": {"domain": [0, 18]}}, "text": {"field": "k"}}},
  {"mark": {"type": "line", "color": "#1e1e1e", "strokeWidth": 1.4, "interpolate": "monotone"}, "encoding": {"x": {"field": "t", "type": "quantitative", "scale": {"domain": [0, 72]}}, "y": {"field": "v", "type": "quantitative", "scale": {"domain": [0, 18]}}}},
  {"data": {"values": [{"g": "α", "t": 23.2, "v": 1.4}, {"g": "β", "t": 46.6, "v": 1.4}]}, "mark": {"type": "point", "shape": "square", "filled": true, "color": "#ffffff", "opacity": 1, "size": 40}, "encoding": {"x": {"field": "t", "type": "quantitative", "scale": {"domain": [0, 72]}}, "y": {"field": "v", "type": "quantitative", "scale": {"domain": [0, 18]}}}},
  {"data": {"values": [{"g": "α", "t": 23.2, "v": 1.4}, {"g": "β", "t": 46.6, "v": 1.4}]}, "mark": {"type": "text", "fontSize": 6.5, "fontWeight": "bold", "color": "#111"}, "encoding": {"x": {"field": "t", "type": "quantitative", "scale": {"domain": [0, 72]}}, "y": {"field": "v", "type": "quantitative", "scale": {"domain": [0, 18]}}, "text": {"field": "g"}}}
 ]}
]
}
